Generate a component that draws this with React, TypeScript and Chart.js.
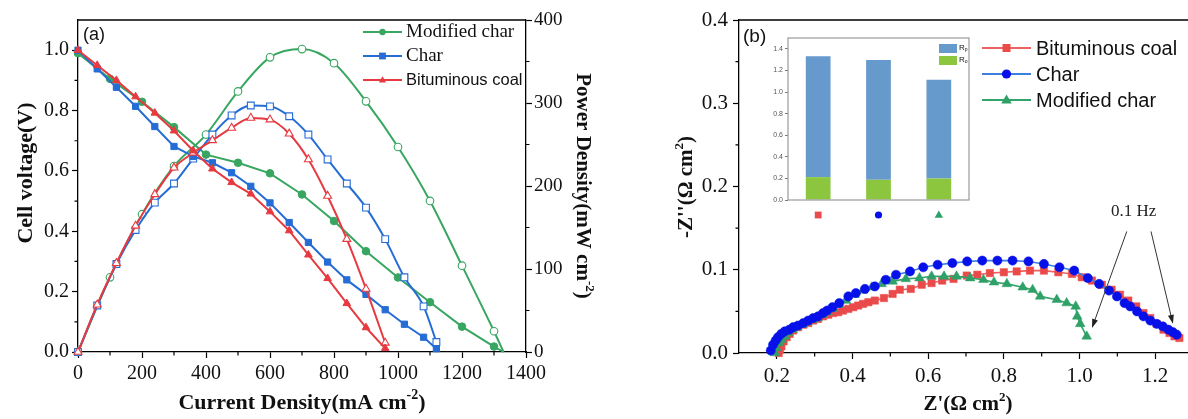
import React, { useEffect, useRef } from 'react';
import { Chart, registerables } from 'chart.js';
Chart.register(...registerables);

const SERIF = "'Liberation Serif', 'Times New Roman', serif";
const SANS = "'Liberation Sans', Arial, sans-serif";

// ---------- Panel (a): polarization / power density ----------
const SERIES_A = ['Modified char', 'Char', 'Bituminous coal'];
const MOD_I = [0, 100, 200, 300, 400, 500, 600, 700, 800, 900, 1000, 1100, 1200, 1300, 1330];
const MOD_V = [0.99, 0.905, 0.829, 0.745, 0.654, 0.627, 0.592, 0.522, 0.434, 0.334, 0.247, 0.165, 0.084, 0.018, 0];
const MOD_P = [0, 90, 166, 224, 262, 314, 355, 365, 348, 302, 247, 182, 104, 25, 0];
const CHAR_I = [0, 60, 120, 180, 240, 300, 360, 420, 480, 540, 600, 660, 720, 780, 840, 900, 960, 1020, 1080, 1120];
const CHAR_V = [1.0, 0.938, 0.877, 0.814, 0.747, 0.681, 0.648, 0.627, 0.594, 0.549, 0.494, 0.429, 0.363, 0.298, 0.239, 0.191, 0.14, 0.092, 0.049, 0.011];
const CHAR_P = [0, 56, 106, 147, 180, 203, 233, 262, 285, 297, 296, 284, 262, 232, 203, 174, 136, 90, 55, 12];
const COAL_I = [0, 60, 120, 180, 240, 300, 360, 420, 480, 540, 600, 660, 720, 780, 840, 900, 960];
const COAL_V = [1.0, 0.95, 0.9, 0.846, 0.792, 0.733, 0.667, 0.607, 0.562, 0.524, 0.465, 0.402, 0.322, 0.244, 0.161, 0.081, 0.012];
const COAL_P = [0, 57, 107, 152, 190, 222, 240, 255, 270, 282, 280, 263, 232, 188, 136, 76, 11];
const A_X_TICKS = [0, 200, 400, 600, 800, 1000, 1200, 1400];
const A_X_MINOR = [100, 300, 500, 700, 900, 1100, 1300];
const A_V_TICKS = [0, 0.2, 0.4, 0.6, 0.8, 1.0];
const A_V_MINOR = [0.1, 0.3, 0.5, 0.7, 0.9];
const A_P_TICKS = [0, 100, 200, 300, 400];
const A_P_MINOR = [50, 150, 250, 350];

// ---------- Panel (b): Nyquist ----------
const SERIES_B = ['Bituminous coal', 'Char', 'Modified char'];
const COAL_ZRE = [0.205, 0.208, 0.212, 0.218, 0.226, 0.234, 0.243, 0.256, 0.27, 0.283, 0.296, 0.309, 0.322, 0.336, 0.349, 0.362, 0.375, 0.389, 0.402, 0.415, 0.428, 0.442, 0.459, 0.483, 0.506, 0.525, 0.554, 0.583, 0.609, 0.637, 0.667, 0.702, 0.73, 0.763, 0.8, 0.834, 0.869, 0.906, 0.944, 0.98, 1.006, 1.033, 1.059, 1.085, 1.107, 1.129, 1.15, 1.169, 1.187, 1.204, 1.222, 1.238, 1.251, 1.264];
const COAL_ZIM = [0.0, 0.004, 0.008, 0.014, 0.019, 0.023, 0.027, 0.031, 0.034, 0.036, 0.039, 0.041, 0.044, 0.046, 0.048, 0.049, 0.051, 0.053, 0.055, 0.057, 0.059, 0.061, 0.063, 0.066, 0.071, 0.076, 0.077, 0.082, 0.084, 0.087, 0.089, 0.093, 0.094, 0.096, 0.097, 0.098, 0.099, 0.099, 0.097, 0.095, 0.091, 0.087, 0.082, 0.076, 0.07, 0.063, 0.056, 0.048, 0.042, 0.035, 0.028, 0.024, 0.02, 0.018];
const CHAR_ZRE = [0.184, 0.19, 0.197, 0.203, 0.212, 0.221, 0.233, 0.243, 0.256, 0.27, 0.283, 0.296, 0.309, 0.322, 0.333, 0.347, 0.365, 0.389, 0.409, 0.433, 0.459, 0.488, 0.515, 0.552, 0.587, 0.625, 0.664, 0.703, 0.743, 0.783, 0.823, 0.865, 0.906, 0.947, 0.986, 1.022, 1.052, 1.078, 1.099, 1.119, 1.134, 1.152, 1.169, 1.187, 1.204, 1.22, 1.235, 1.247, 1.257];
const CHAR_ZIM = [0.003, 0.01, 0.015, 0.019, 0.023, 0.026, 0.028, 0.031, 0.033, 0.036, 0.039, 0.042, 0.044, 0.048, 0.051, 0.055, 0.06, 0.068, 0.072, 0.077, 0.08, 0.088, 0.094, 0.098, 0.103, 0.106, 0.108, 0.11, 0.111, 0.111, 0.111, 0.11, 0.107, 0.103, 0.099, 0.09, 0.083, 0.075, 0.068, 0.06, 0.056, 0.05, 0.044, 0.039, 0.035, 0.032, 0.028, 0.025, 0.022];
const MOD_ZRE = [0.195, 0.199, 0.206, 0.213, 0.221, 0.23, 0.242, 0.254, 0.268, 0.281, 0.294, 0.308, 0.321, 0.334, 0.349, 0.365, 0.383, 0.406, 0.427, 0.451, 0.477, 0.506, 0.541, 0.577, 0.609, 0.642, 0.675, 0.711, 0.746, 0.774, 0.808, 0.85, 0.876, 0.896, 0.94, 0.966, 0.99, 0.994, 1.002, 1.019];
const MOD_ZIM = [0.0, 0.006, 0.012, 0.016, 0.02, 0.024, 0.028, 0.031, 0.034, 0.037, 0.04, 0.042, 0.046, 0.049, 0.053, 0.058, 0.063, 0.07, 0.075, 0.079, 0.083, 0.086, 0.089, 0.09, 0.092, 0.092, 0.092, 0.09, 0.088, 0.085, 0.083, 0.079, 0.076, 0.068, 0.064, 0.06, 0.056, 0.044, 0.035, 0.02];
const B_X_TICKS = [0.2, 0.4, 0.6, 0.8, 1.0, 1.2];
const B_X_MINOR = [0.3, 0.5, 0.7, 0.9, 1.1];
const B_Y_TICKS = [0, 0.1, 0.2, 0.3, 0.4];
const B_Y_MINOR = [0.05, 0.15, 0.25, 0.35];
const FREQ_LABEL = '0.1 Hz';
const FREQ_TEXT_AT = [1.143, 0.17];
const FREQ_ARROWS = [
  [1.125, 0.146, 1.033, 0.03],
  [1.189, 0.146, 1.247, 0.035],
];

// ---------- Inset: resistances ----------
const INSET_CATS = ['Bituminous coal', 'Char', 'Modified char'];
const RO_VALUES = [0.212, 0.187, 0.199];
const RP_VALUES = [1.12, 1.11, 0.915];
const INSET_TICKS = [0, 0.2, 0.4, 0.6, 0.8, 1.0, 1.2, 1.4];

const GREEN_A = '#38a660';
const BLUE_A = '#256dd5';
const RED_A = '#e63a40';
const RED_B_M = '#ea4a4a';
const RED_B_L = '#ec6262';
const BLUE_B_M = '#0610e8';
const BLUE_B_L = '#3d7fe0';
const GREEN_B_M = '#2fa067';
const GREEN_B_L = '#33a46a';
const RP_COLOR = '#6699cc';
const RO_COLOR = '#8cc63e';

type Part = { t: string; sup?: boolean; sub?: boolean };

function drawRich(ctx: CanvasRenderingContext2D, parts: Part[], x: number, y: number, size: number, family: string, weight: string, rot: number, align: 'center' | 'left' = 'center') {
  ctx.save();
  ctx.translate(x, y);
  ctx.rotate(rot);
  const fMain = `${weight} ${size}px ${family}`;
  const fSmall = `${weight} ${Math.round(size * 0.62)}px ${family}`;
  let total = 0;
  const widths = parts.map((p) => {
    ctx.font = p.sup || p.sub ? fSmall : fMain;
    const w = ctx.measureText(p.t).width;
    total += w;
    return w;
  });
  let cx = align === 'center' ? -total / 2 : 0;
  ctx.textBaseline = 'middle';
  ctx.textAlign = 'left';
  ctx.fillStyle = '#111';
  parts.forEach((p, i) => {
    ctx.font = p.sup || p.sub ? fSmall : fMain;
    const dy = p.sup ? -size * 0.36 : p.sub ? size * 0.25 : 0;
    ctx.fillText(p.t, cx, dy);
    cx += widths[i];
  });
  ctx.restore();
}

function drawMarker(ctx: CanvasRenderingContext2D, style: string, x: number, y: number, r: number, fill: string | null, stroke: string | null, lw = 1) {
  ctx.beginPath();
  if (style === 'circle') ctx.arc(x, y, r, 0, Math.PI * 2);
  else if (style === 'rect') ctx.rect(x - r, y - r, 2 * r, 2 * r);
  else {
    ctx.moveTo(x, y - r * 1.1);
    ctx.lineTo(x + r * 1.05, y + r * 0.7);
    ctx.lineTo(x - r * 1.05, y + r * 0.7);
    ctx.closePath();
  }
  if (fill) { ctx.fillStyle = fill; ctx.fill(); }
  if (stroke) { ctx.strokeStyle = stroke; ctx.lineWidth = lw; ctx.stroke(); }
}

function drawMinor(ctx: CanvasRenderingContext2D, scale: any, values: number[], len: number, side: string) {
  ctx.save();
  ctx.strokeStyle = '#000';
  ctx.lineWidth = 1.2;
  ctx.beginPath();
  values.forEach((v) => {
    const p = scale.getPixelForValue(v);
    if (side === 'bottom') { ctx.moveTo(p, scale.top); ctx.lineTo(p, scale.top + len); }
    if (side === 'left') { ctx.moveTo(scale.right, p); ctx.lineTo(scale.right - len, p); }
    if (side === 'right') { ctx.moveTo(scale.left, p); ctx.lineTo(scale.left + len, p); }
  });
  ctx.stroke();
  ctx.restore();
}

const pts = (xs: number[], ys: number[]) => xs.map((x, i) => ({ x, y: ys[i] }));

function axis(opts: any) {
  const { ticks, fmt, size, pad, width, height, position, min, max, tickLen = 6 } = opts;
  return {
    type: 'linear',
    position,
    min,
    max,
    afterBuildTicks: (s: any) => { s.ticks = ticks.map((v: number) => ({ value: v })); },
    afterFit: (s: any) => {
      if (width !== undefined) s.width = width;
      if (height !== undefined) s.height = height;
    },
    ticks: {
      callback: (v: any) => fmt(Number(v)),
      font: { family: SERIF, size },
      color: '#111',
      padding: pad,
      autoSkip: false,
      maxRotation: 0,
    },
    grid: { drawOnChartArea: false, tickLength: tickLen, color: '#000', tickWidth: 1.2 },
    border: { color: '#000', width: 1.3 },
  };
}

function configA(): any {
  const voltage = (label: string, xs: number[], ys: number[], color: string, style: string, r: number) => ({
    label, data: pts(xs, ys), yAxisID: 'y', showLine: true, borderColor: color, borderWidth: 2,
    pointStyle: style, pointRadius: (c: any) => (c.raw && c.raw.x === 1330 ? 0 : r),
    pointBackgroundColor: color, pointBorderColor: color, pointBorderWidth: 1, tension: 0, clip: false,
  });
  const power = (label: string, xs: number[], ys: number[], color: string, style: string, r: number) => ({
    label, data: pts(xs, ys), yAxisID: 'y1', showLine: true, borderColor: color, borderWidth: 2,
    pointStyle: style, pointRadius: (c: any) => (c.raw && c.raw.x === 1330 ? 0 : r),
    pointBackgroundColor: '#fff', pointBorderColor: color, pointBorderWidth: 1.1,
    cubicInterpolationMode: 'monotone', clip: false,
  });
  return {
    type: 'scatter',
    data: {
      datasets: [
        voltage(SERIES_A[2], COAL_I, COAL_V, RED_A, 'triangle', 4.4),
        power(SERIES_A[2], COAL_I, COAL_P, RED_A, 'triangle', 4.6),
        voltage(SERIES_A[1], CHAR_I, CHAR_V, BLUE_A, 'rect', 4.4),
        power(SERIES_A[1], CHAR_I, CHAR_P, BLUE_A, 'rect', 4.8),
        voltage(SERIES_A[0], MOD_I, MOD_V, GREEN_A, 'circle', 3.8),
        power(SERIES_A[0], MOD_I, MOD_P, GREEN_A, 'circle', 3.8),
      ],
    },
    options: {
      responsive: false, animation: false, devicePixelRatio: 1,
      layout: { padding: { top: 20, left: 0, right: 0, bottom: 0 }, autoPadding: false },
      plugins: { legend: { display: false }, tooltip: { enabled: false } },
      scales: {
        x: axis({ ticks: A_X_TICKS, fmt: (v: number) => String(v), size: 20, pad: 4, height: 67, position: 'bottom', min: 0, max: 1400 }),
        y: axis({ ticks: A_V_TICKS, fmt: (v: number) => v.toFixed(1), size: 20, pad: 3, width: 78, position: 'left', min: 0, max: 1.1 }),
        y1: axis({ ticks: A_P_TICKS, fmt: (v: number) => String(v), size: 19, pad: 2, width: 74, position: 'right', min: 0, max: 400 }),
      },
    },
    plugins: [{
      id: 'panelA',
      afterDraw(chart: any) {
        const { ctx, chartArea: a, scales } = chart;
        ctx.save();
        ctx.strokeStyle = '#000'; ctx.lineWidth = 1.3;
        ctx.beginPath(); ctx.moveTo(a.left, a.top); ctx.lineTo(a.right, a.top); ctx.stroke();
        ctx.restore();
        drawMinor(ctx, scales.x, A_X_MINOR, 3.5, 'bottom');
        drawMinor(ctx, scales.y, A_V_MINOR, 3.5, 'left');
        drawMinor(ctx, scales.y1, A_P_MINOR, 3.5, 'right');
        drawRich(ctx, [{ t: 'Current Density(mA cm' }, { t: '-2', sup: true }, { t: ')' }], (a.left + a.right) / 2, 403, 22, SERIF, 'bold', 0);
        drawRich(ctx, [{ t: 'Cell voltage(V)' }], 26, 173, 22, SERIF, 'bold', -Math.PI / 2);
        drawRich(ctx, [{ t: 'Power Density(mW cm' }, { t: '-2', sup: true }, { t: ')' }], 582, 186, 21, SERIF, 'bold', Math.PI / 2);
        // panel label
        ctx.save();
        ctx.font = `18px ${SANS}`; ctx.fillStyle = '#111'; ctx.textBaseline = 'middle';
        ctx.fillText('(a)', 83, 35);
        ctx.restore();
        // legend
        const items = [
          { label: SERIES_A[0], color: GREEN_A, style: 'circle', font: `19px ${SERIF}`, y: 32 },
          { label: SERIES_A[1], color: BLUE_A, style: 'rect', font: `19px ${SERIF}`, y: 56 },
          { label: SERIES_A[2], color: RED_A, style: 'triangle', font: `16.5px ${SANS}`, y: 80 },
        ];
        items.forEach((it) => {
          ctx.save();
          ctx.strokeStyle = it.color; ctx.lineWidth = 2;
          ctx.beginPath(); ctx.moveTo(363, it.y); ctx.lineTo(402, it.y); ctx.stroke();
          drawMarker(ctx, it.style, 382.5, it.y, it.style === 'circle' ? 3.2 : 3.4, it.color, null);
          ctx.font = it.font; ctx.fillStyle = '#111'; ctx.textBaseline = 'middle';
          ctx.fillText(it.label, 406, it.y);
          ctx.restore();
        });
      },
    }],
  };
}

function configB(): any {
  const ds = (label: string, xs: number[], ys: number[], mc: string, lc: string, style: string, r: number) => ({
    label, data: pts(xs, ys), showLine: true, borderColor: lc, borderWidth: 1.6,
    pointStyle: style, pointRadius: r, pointBackgroundColor: mc, pointBorderColor: mc, pointBorderWidth: 0.5,
    tension: 0, clip: false,
  });
  return {
    type: 'scatter',
    data: {
      datasets: [
        ds(SERIES_B[1], CHAR_ZRE, CHAR_ZIM, BLUE_B_M, BLUE_B_L, 'circle', 4.6),
        ds(SERIES_B[2], MOD_ZRE, MOD_ZIM, GREEN_B_M, GREEN_B_L, 'triangle', 5.6),
        ds(SERIES_B[0], COAL_ZRE, COAL_ZIM, RED_B_M, RED_B_L, 'rect', 5.2),
      ],
    },
    options: {
      responsive: false, animation: false, devicePixelRatio: 1,
      layout: { padding: { top: 20, left: 0, right: 7, bottom: 0 }, autoPadding: false },
      plugins: { legend: { display: false }, tooltip: { enabled: false } },
      scales: {
        x: axis({ ticks: B_X_TICKS, fmt: (v: number) => v.toFixed(1), size: 21, pad: 5, height: 66, position: 'bottom', min: 0.1, max: 1.3 }),
        y: axis({ ticks: B_Y_TICKS, fmt: (v: number) => v.toFixed(1), size: 21, pad: 5, width: 139, position: 'left', min: 0, max: 0.4 }),
      },
    },
    plugins: [{
      id: 'panelB',
      afterDraw(chart: any) {
        const { ctx, chartArea: a, scales } = chart;
        ctx.save();
        ctx.strokeStyle = '#000'; ctx.lineWidth = 1.3;
        ctx.beginPath(); ctx.moveTo(a.left, a.top); ctx.lineTo(a.right, a.top); ctx.lineTo(a.right, a.bottom); ctx.stroke();
        ctx.restore();
        drawMinor(ctx, scales.x, B_X_MINOR, 3.5, 'bottom');
        drawMinor(ctx, scales.y, B_Y_MINOR, 3.5, 'left');
        drawRich(ctx, [{ t: "Z'(\u03A9 cm" }, { t: '2', sup: true }, { t: ')' }], 368, 405, 21, SERIF, 'bold', 0);
        drawRich(ctx, [{ t: "-Z''(\u03A9 cm" }, { t: '2', sup: true }, { t: ')' }], 87, 187, 21, SERIF, 'bold', -Math.PI / 2);
        ctx.save();
        ctx.font = `19px ${SANS}`; ctx.fillStyle = '#111'; ctx.textBaseline = 'middle';
        ctx.fillText('(b)', 143, 37);
        ctx.restore();
        // legend
        const items = [
          { label: SERIES_B[0], mc: RED_B_M, lc: RED_B_L, style: 'rect', r: 4, y: 48 },
          { label: SERIES_B[1], mc: BLUE_B_M, lc: BLUE_B_L, style: 'circle', r: 4.6, y: 74 },
          { label: SERIES_B[2], mc: GREEN_B_M, lc: GREEN_B_L, style: 'triangle', r: 5, y: 100 },
        ];
        items.forEach((it) => {
          ctx.save();
          ctx.strokeStyle = it.lc; ctx.lineWidth = 2;
          ctx.beginPath(); ctx.moveTo(382, it.y); ctx.lineTo(431, it.y); ctx.stroke();
          drawMarker(ctx, it.style, 406.5, it.y, it.r, it.mc, null);
          ctx.font = `20px ${SANS}`; ctx.fillStyle = '#111'; ctx.textBaseline = 'middle';
          ctx.fillText(it.label, 436, it.y + 1);
          ctx.restore();
        });
        // 0.1 Hz annotation
        const sx = scales.x, sy = scales.y;
        ctx.save();
        ctx.font = `17px ${SERIF}`; ctx.fillStyle = '#222'; ctx.textAlign = 'center'; ctx.textBaseline = 'middle';
        ctx.fillText(FREQ_LABEL, sx.getPixelForValue(FREQ_TEXT_AT[0]), sy.getPixelForValue(FREQ_TEXT_AT[1]));
        FREQ_ARROWS.forEach(([x0, y0, x1, y1]) => {
          const px0 = sx.getPixelForValue(x0), py0 = sy.getPixelForValue(y0);
          const px1 = sx.getPixelForValue(x1), py1 = sy.getPixelForValue(y1);
          const ang = Math.atan2(py1 - py0, px1 - px0);
          ctx.strokeStyle = '#333'; ctx.lineWidth = 1;
          ctx.beginPath(); ctx.moveTo(px0, py0); ctx.lineTo(px1 - Math.cos(ang) * 6, py1 - Math.sin(ang) * 6); ctx.stroke();
          ctx.fillStyle = '#222';
          ctx.beginPath();
          ctx.moveTo(px1, py1);
          ctx.lineTo(px1 - Math.cos(ang) * 9 + Math.sin(ang) * 3, py1 - Math.sin(ang) * 9 - Math.cos(ang) * 3);
          ctx.lineTo(px1 - Math.cos(ang) * 9 - Math.sin(ang) * 3, py1 - Math.sin(ang) * 9 + Math.cos(ang) * 3);
          ctx.closePath(); ctx.fill();
        });
        ctx.restore();
      },
    }],
  };
}

function configC(): any {
  return {
    type: 'bar',
    data: {
      labels: INSET_CATS,
      datasets: [
        { label: 'Ro', data: RO_VALUES, backgroundColor: RO_COLOR, barPercentage: 0.41, categoryPercentage: 1 },
        { label: 'Rp', data: RP_VALUES, backgroundColor: RP_COLOR, barPercentage: 0.41, categoryPercentage: 1 },
      ],
    },
    options: {
      responsive: false, animation: false, devicePixelRatio: 1,
      layout: { padding: { top: 10, left: 0, right: 11, bottom: 0 }, autoPadding: false },
      plugins: { legend: { display: false }, tooltip: { enabled: false } },
      scales: {
        x: {
          stacked: true, offset: true,
          afterFit: (s: any) => { s.height = 28; },
          ticks: { display: false }, grid: { display: false }, border: { display: false },
        },
        y: {
          stacked: true, min: 0, max: 1.5,
          afterBuildTicks: (s: any) => { s.ticks = INSET_TICKS.map((v) => ({ value: v })); },
          afterFit: (s: any) => { s.width = 28; },
          ticks: { callback: (v: any) => Number(v).toFixed(1), font: { family: SANS, size: 7 }, color: '#555', padding: 2 },
          grid: { drawOnChartArea: false, tickLength: 3, color: '#777' },
          border: { display: false },
        },
      },
    },
    plugins: [{
      id: 'inset',
      beforeDraw(chart: any) {
        const { ctx, chartArea: a } = chart;
        ctx.save(); ctx.fillStyle = '#fff'; ctx.fillRect(a.left, a.top, a.right - a.left, a.bottom - a.top); ctx.restore();
      },
      afterDraw(chart: any) {
        const { ctx, chartArea: a, scales } = chart;
        ctx.save();
        ctx.strokeStyle = '#999'; ctx.lineWidth = 1.2;
        ctx.strokeRect(a.left, a.top, a.right - a.left, a.bottom - a.top);
        // legend
        ctx.fillStyle = RP_COLOR; ctx.fillRect(179, 16, 18, 9);
        ctx.fillStyle = RO_COLOR; ctx.fillRect(179, 28, 18, 9);
        ctx.restore();
        drawRich(ctx, [{ t: 'R' }, { t: 'p', sub: true }], 199, 20, 8, SANS, 'normal', 0, 'left');
        drawRich(ctx, [{ t: 'R' }, { t: 'o', sub: true }], 199, 32, 8, SANS, 'normal', 0, 'left');
        const marks = [
          { style: 'rect', c: RED_B_M, r: 3.4 },
          { style: 'circle', c: BLUE_B_M, r: 3.6 },
          { style: 'triangle', c: GREEN_B_M, r: 4 },
        ];
        marks.forEach((m, i) => {
          drawMarker(ctx, m.style, scales.x.getPixelForValue(i), a.bottom + 15, m.r, m.c, null);
        });
      },
    }],
  };
}

export default function App() {
  const aRef = useRef<HTMLCanvasElement>(null);
  const bRef = useRef<HTMLCanvasElement>(null);
  const cRef = useRef<HTMLCanvasElement>(null);
  useEffect(() => {
    const ca = new Chart(aRef.current as HTMLCanvasElement, configA());
    const cb = new Chart(bRef.current as HTMLCanvasElement, configB());
    const cc = new Chart(cRef.current as HTMLCanvasElement, configC());
    return () => { ca.destroy(); cb.destroy(); cc.destroy(); };
  }, []);
  return (
    <div style={{ position: 'fixed', left: 0, top: 0, width: 1188, height: 419, overflow: 'hidden', background: '#fff' }}>
      <canvas ref={aRef} width={600} height={419} style={{ position: 'absolute', left: 0, top: 0, width: 600, height: 419 }} />
      <canvas ref={bRef} width={600} height={419} style={{ position: 'absolute', left: 600, top: 0, width: 600, height: 419 }} />
      <canvas ref={cRef} width={220} height={200} style={{ position: 'absolute', left: 760, top: 28, width: 220, height: 200 }} />
    </div>
  );
}
